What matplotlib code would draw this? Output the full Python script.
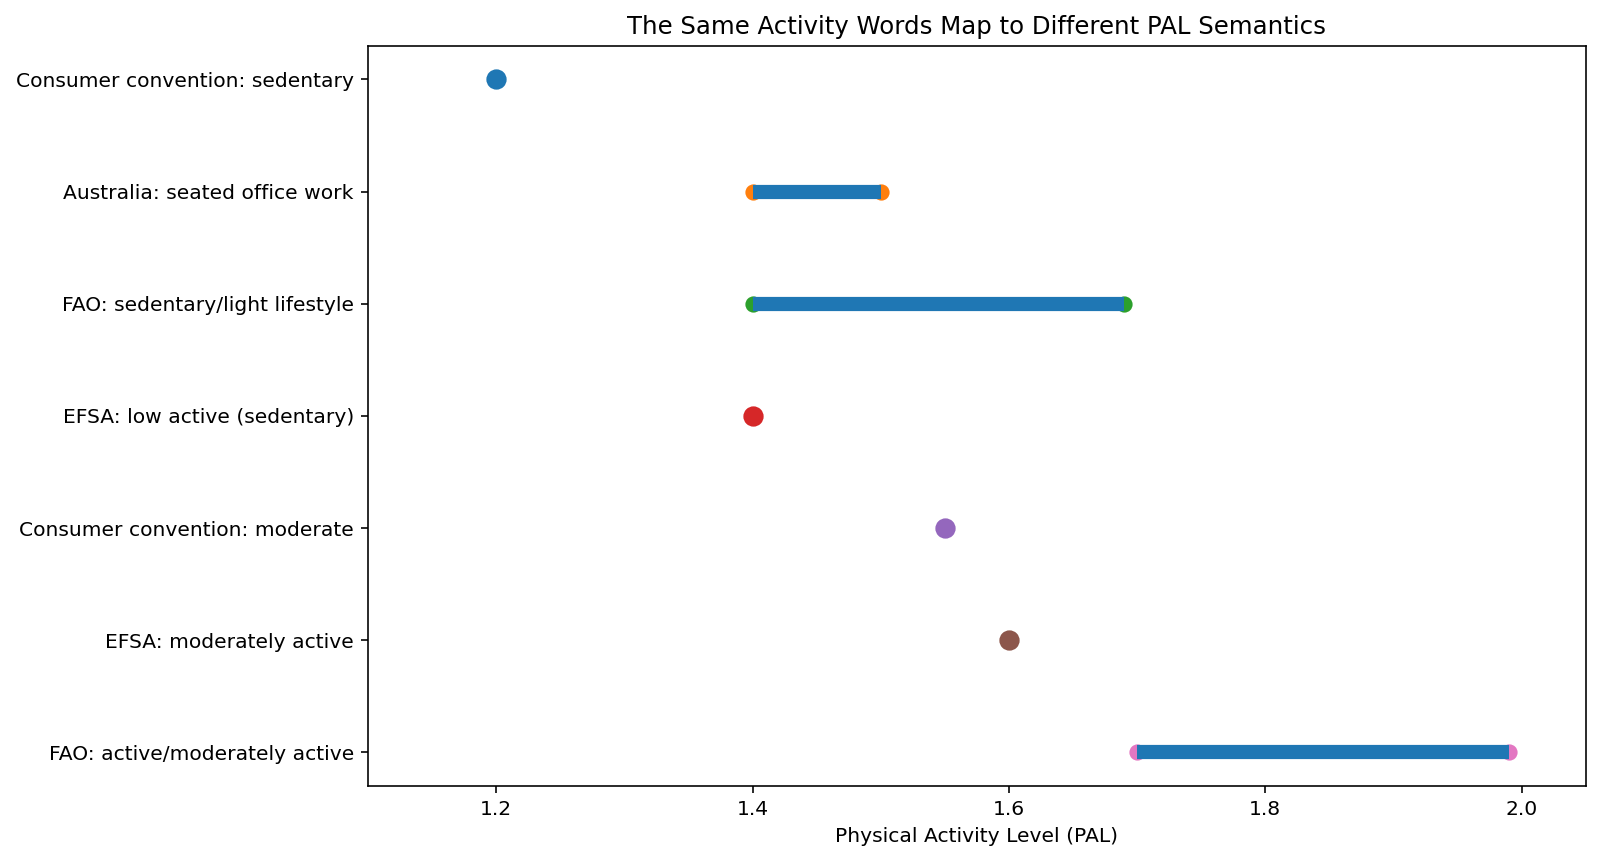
import matplotlib
matplotlib.use("Agg")
import matplotlib.pyplot as plt

# PAL definitions: label, low, high (single value when low == high)
labels = [
    "Consumer convention: sedentary",
    "Australia: seated office work",
    "FAO: sedentary/light lifestyle",
    "EFSA: low active (sedentary)",
    "Consumer convention: moderate",
    "EFSA: moderately active",
    "FAO: active/moderately active",
]
pal_low = [1.2, 1.4, 1.4, 1.4, 1.55, 1.6, 1.7]
pal_high = [1.2, 1.5, 1.69, 1.4, 1.55, 1.6, 1.99]

dpi = 146
fig, ax = plt.subplots(figsize=(1600 / dpi, 862 / dpi), dpi=dpi)
fig.subplots_adjust(left=0.230, right=0.991, top=0.947, bottom=0.088)

for i, (lo, hi) in enumerate(zip(pal_low, pal_high)):
    if lo == hi:
        ax.plot([lo], [i], "o", markersize=9)
    else:
        ax.plot([lo, hi], [i, i], "o", markersize=7)
        ax.hlines(i, lo, hi, linewidth=7)

ax.set_yticks(range(len(labels)))
ax.set_yticklabels(labels)
ax.invert_yaxis()
ax.set_xlim(1.1, 2.05)
ax.set_xlabel("Physical Activity Level (PAL)")
ax.set_title("The Same Activity Words Map to Different PAL Semantics")

plt.savefig("out.png", dpi=dpi)
